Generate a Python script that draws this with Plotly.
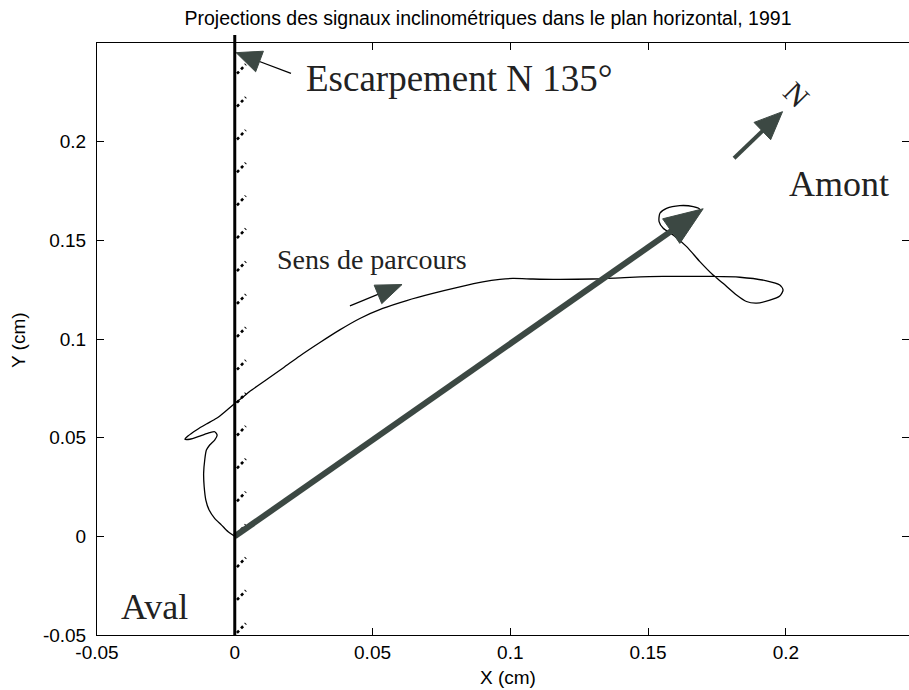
import math
import plotly.graph_objects as go

# ---- data -------------------------------------------------------------
title_text = "Projections des signaux inclinométriques dans le plan horizontal, 1991"

# horizontal projection of the inclinometer signal (cm)
path_x = [0.0000, -0.0024, -0.0048, -0.0073, -0.0093, -0.0105, -0.0111, -0.0113,
          -0.0109, -0.0103, -0.0091, -0.0073, -0.0064, -0.0073, -0.0091, -0.0127,
          -0.0163, -0.0181, -0.0170, -0.0139, -0.0103, -0.0066, -0.0030, 0.0000,
          0.0030, 0.0054, 0.0116, 0.0178, 0.0236, 0.0309, 0.0381, 0.0454,
          0.0537, 0.0624, 0.0719, 0.0817, 0.0900, 0.0962, 0.1009, 0.1082,
          0.1155, 0.1299, 0.1434, 0.1554, 0.1735, 0.1833, 0.1930, 0.1978,
          0.1990, 0.1978, 0.1942, 0.1894, 0.1857, 0.1821, 0.1772, 0.1736,
          0.1688, 0.1640, 0.1591, 0.1555, 0.1540, 0.1543, 0.1567, 0.1615,
          0.1664, 0.1688, 0.1670]
path_y = [0.0000, 0.0023, 0.0057, 0.0091, 0.0133, 0.0184, 0.0251, 0.0319,
          0.0387, 0.0437, 0.0463, 0.0488, 0.0513, 0.0530, 0.0525, 0.0508,
          0.0492, 0.0492, 0.0508, 0.0539, 0.0569, 0.0598, 0.0638, 0.0673,
          0.0706, 0.0734, 0.0795, 0.0856, 0.0914, 0.0982, 0.1046, 0.1104,
          0.1155, 0.1195, 0.1231, 0.1264, 0.1289, 0.1302, 0.1307, 0.1304,
          0.1302, 0.1304, 0.1312, 0.1317, 0.1317, 0.1313, 0.1295, 0.1274,
          0.1248, 0.1218, 0.1197, 0.1182, 0.1190, 0.1223, 0.1282, 0.1324,
          0.1392, 0.1468, 0.1527, 0.1561, 0.1595, 0.1637, 0.1662, 0.1676,
          0.1671, 0.1657, 0.1629]

# resultant displacement vector (cm)
resultant_tail = (0.0, 0.0)
resultant_tip = (0.170, 0.166)

# escarpment trace (x = 0) and its hatch positions
escarp_x = 0.0
hatch_y = [-0.0465 + k / 60 for k in range(18)]

# pointers: (tail, tip)
escarp_pointer = ((0.0204, 0.2346), (0.0005, 0.2451))
sens_pointer = ((0.0418, 0.1168), (0.0607, 0.1276))
north_pointer = ((0.1812, 0.1916), (0.1988, 0.2152))

x_tickvals = [-0.05, 0.0, 0.05, 0.1, 0.15, 0.2]
x_ticktext = ["-0.05", "0", "0.05", "0.1", "0.15", "0.2"]
y_tickvals = [-0.05, 0.0, 0.05, 0.1, 0.15, 0.2]
y_ticktext = ["-0.05", "0", "0.05", "0.1", "0.15", "0.2"]

# ---- layout geometry --------------------------------------------------
W, H = 909, 690
ML, MR, MT, MB = 97, 0, 43, 55
XR = [-0.05, 0.2447]
YR = [-0.05, 0.25]
KX = (W - ML - MR) / (XR[1] - XR[0])   # px per cm along x
KY = (H - MT - MB) / (YR[1] - YR[0])   # px per cm along y

DARK = "#3c4843"
SERIF = "Liberation Serif, Times New Roman, serif"
SANS = "Liberation Sans, Arial, sans-serif"


def arrow_head(tail, tip, length, width):
    """Triangle (in data units) of given pixel length/width ending at tip."""
    dx = (tip[0] - tail[0]) * KX
    dy = (tip[1] - tail[1]) * KY
    n = math.hypot(dx, dy)
    ux, uy = dx / n, dy / n
    bx, by = -ux * length, -uy * length
    px, py = -uy * width / 2, ux * width / 2
    xs = [tip[0], tip[0] + (bx + px) / KX, tip[0] + (bx - px) / KX, tip[0]]
    ys = [tip[1], tip[1] + (by + py) / KY, tip[1] + (by - py) / KY, tip[1]]
    base = (tip[0] + 0.8 * bx / KX, tip[1] + 0.8 * by / KY)
    return xs, ys, base


fig = go.Figure()

# hatching along the escarpment
hx, hy = [], []
for y in hatch_y:
    hx += [escarp_x + 0.0008, escarp_x + 0.0040, None]
    hy += [y - 0.0024, y + 0.0024, None]
fig.add_trace(go.Scatter(x=hx, y=hy, mode="lines",
                         line=dict(color="black", width=2.6, dash="dot")))

# signal trajectory
fig.add_trace(go.Scatter(x=path_x, y=path_y, mode="lines",
                         line=dict(color="black", width=1.3, shape="spline",
                                   smoothing=0.7)))

heads_x, heads_y = [], []

# resultant vector
hx_, hy_, base = arrow_head(resultant_tail, resultant_tip, 39, 30)
fig.add_trace(go.Scatter(x=[resultant_tail[0], base[0]],
                         y=[resultant_tail[1], base[1]], mode="lines",
                         line=dict(color=DARK, width=6)))
heads_x += hx_ + [None]
heads_y += hy_ + [None]

# thin pointers (escarpment label, direction of travel)
for (tail, tip), L, Wd in ((escarp_pointer, 25, 22), (sens_pointer, 26, 20)):
    hx_, hy_, base = arrow_head(tail, tip, L, Wd)
    fig.add_trace(go.Scatter(x=[tail[0], base[0]], y=[tail[1], base[1]],
                             mode="lines", line=dict(color="black", width=1.2)))
    heads_x += hx_ + [None]
    heads_y += hy_ + [None]

# north arrow
tail, tip = north_pointer
hx_, hy_, base = arrow_head(tail, tip, 28, 24)
fig.add_trace(go.Scatter(x=[tail[0], base[0]], y=[tail[1], base[1]],
                         mode="lines", line=dict(color=DARK, width=4)))
heads_x += hx_ + [None]
heads_y += hy_ + [None]

fig.add_trace(go.Scatter(x=heads_x, y=heads_y, mode="lines", fill="toself",
                         fillcolor=DARK, line=dict(color=DARK, width=1)))

# escarpment line (slightly overshooting the top frame)
x_paper = (escarp_x - XR[0]) / (XR[1] - XR[0])
fig.add_shape(type="line", xref="paper", yref="paper",
              x0=x_paper, x1=x_paper, y0=0, y1=1 + 8 / (H - MT - MB),
              line=dict(color="black", width=3))

labels = [
    ("Escarpement N 135°", 0.0815, 0.2318, 37, 0),
    ("Amont", 0.2192, 0.1785, 36, 0),
    ("Aval", -0.0290, -0.0357, 36, 0),
    ("Sens de parcours", 0.0497, 0.1405, 28, 0),
    ("N", 0.2040, 0.2240, 30, 45),
]
for txt, x, y, size, ang in labels:
    fig.add_annotation(x=x, y=y, xref="x", yref="y", text=txt, showarrow=False,
                       textangle=ang, xanchor="center", yanchor="middle",
                       font=dict(family=SERIF, size=size, color="#222222"))

# axis titles
fig.add_annotation(x=(508 - ML) / (W - ML - MR), y=(H - MB - 677) / (H - MT - MB),
                   xref="paper", yref="paper", text="X (cm)", showarrow=False,
                   xanchor="center", yanchor="middle",
                   font=dict(family=SANS, size=19, color="black"))
fig.add_annotation(x=(18 - ML) / (W - ML - MR), y=(H - MB - 340) / (H - MT - MB),
                   xref="paper", yref="paper", text="Y (cm)", showarrow=False,
                   textangle=-90, xanchor="center", yanchor="middle",
                   font=dict(family=SANS, size=19, color="black"))

axis_common = dict(showgrid=False, zeroline=False, showline=True,
                   linecolor="black", linewidth=1, mirror="ticks",
                   ticks="inside", ticklen=7, tickwidth=1, tickcolor="black",
                   tickfont=dict(family=SANS, size=19, color="black"))

fig.update_layout(
    width=W, height=H,
    margin=dict(l=ML, r=MR, t=MT, b=MB),
    paper_bgcolor="white", plot_bgcolor="white",
    showlegend=False, hovermode=False,
    title=dict(text=title_text, x=488 / W, xref="container", xanchor="center",
               y=1 - 18 / H, yref="container", yanchor="middle",
               font=dict(family=SANS, size=19.5, color="black")),
    xaxis=dict(range=XR, tickvals=x_tickvals, ticktext=x_ticktext,
               ticklabelstandoff=0, **axis_common),
    yaxis=dict(range=YR, tickvals=y_tickvals, ticktext=y_ticktext,
               ticklabelstandoff=6, **axis_common),
)

fig.write_html("out.html", config={"displayModeBar": False})
